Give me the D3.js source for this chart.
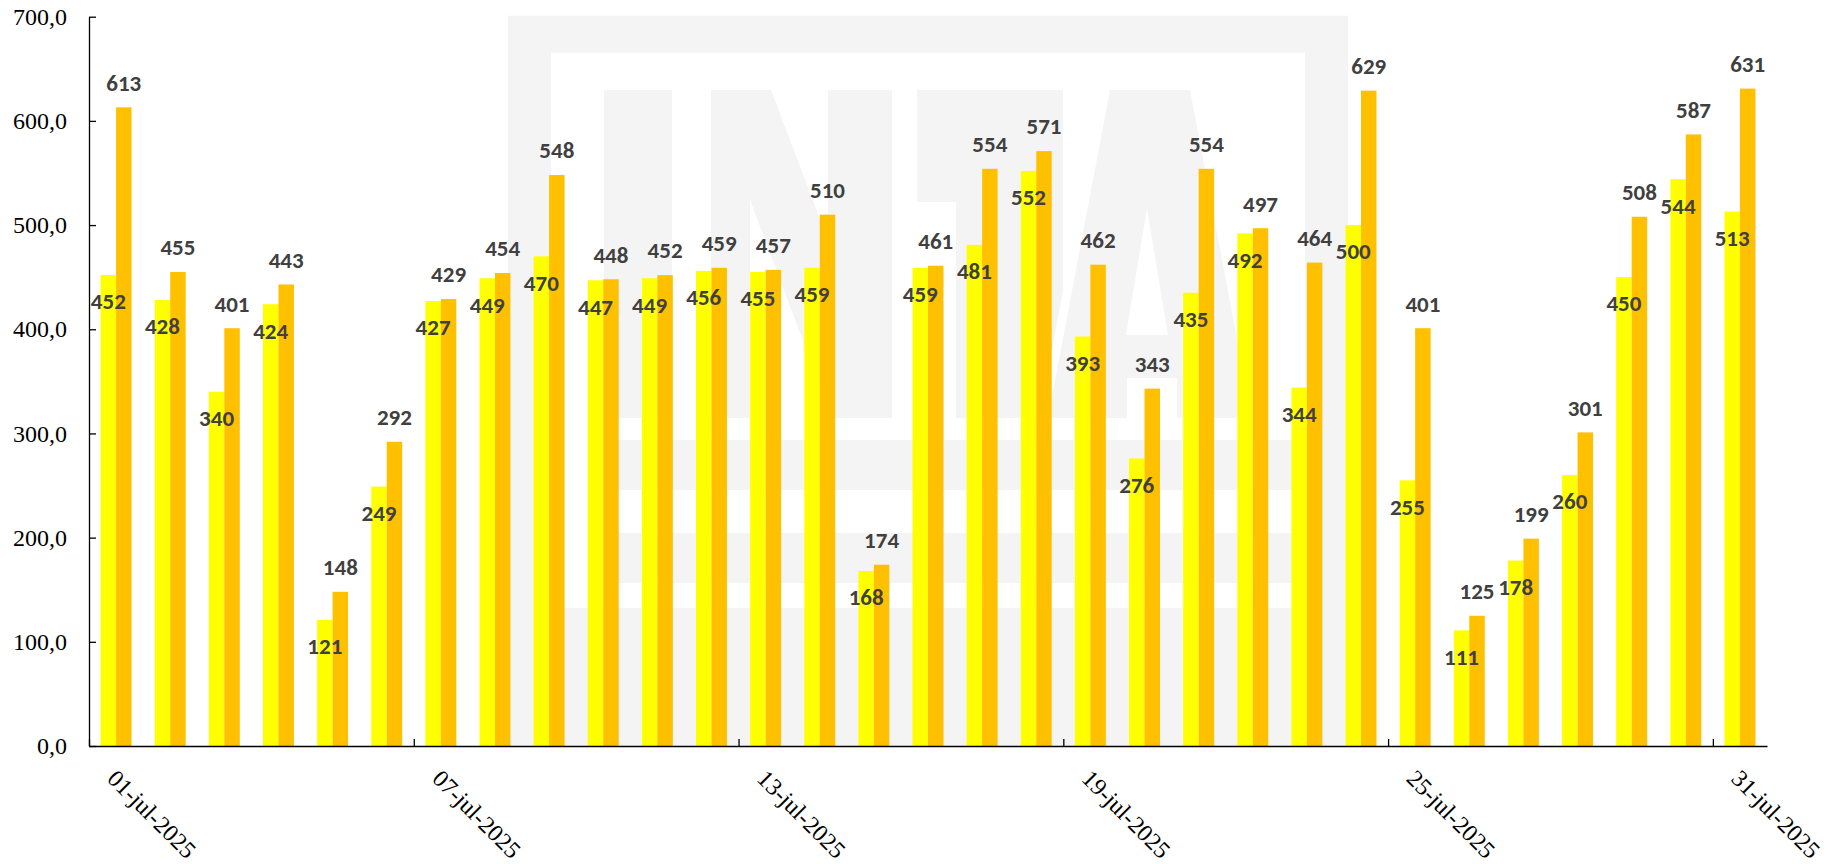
<!DOCTYPE html>
<html>
<head>
<meta charset="utf-8">
<title>Julio 2025</title>
<script src="https://d3js.org/d3.v7.min.js"></script>
<style>
    body { margin: 0; background: #fff; }
    svg { display: block; }
    .axis path, .axis line { stroke: #000; stroke-width: 1.3px; }
</style>
</head>
<body>
<script>
var fechas = ["01-jul-2025", "02-jul-2025", "03-jul-2025", "04-jul-2025", "05-jul-2025", "06-jul-2025",
    "07-jul-2025", "08-jul-2025", "09-jul-2025", "10-jul-2025", "11-jul-2025", "12-jul-2025",
    "13-jul-2025", "14-jul-2025", "15-jul-2025", "16-jul-2025", "17-jul-2025", "18-jul-2025",
    "19-jul-2025", "20-jul-2025", "21-jul-2025", "22-jul-2025", "23-jul-2025", "24-jul-2025",
    "25-jul-2025", "26-jul-2025", "27-jul-2025", "28-jul-2025", "29-jul-2025", "30-jul-2025",
    "31-jul-2025"];
var fechasEje = ["01-jul-2025", "07-jul-2025", "13-jul-2025", "19-jul-2025", "25-jul-2025", "31-jul-2025"];

var serie1 = [452, 428, 340, 424, 121, 249, 427, 449, 470, 447, 449, 456, 455, 459, 168, 459,
    481, 552, 393, 276, 435, 492, 344, 500, 255, 111, 178, 260, 450, 544, 513];
var serie2 = [613, 455, 401, 443, 148, 292, 429, 454, 548, 448, 452, 459, 457, 510, 174, 461,
    554, 571, 462, 343, 554, 497, 464, 629, 401, 125, 199, 301, 508, 587, 631];

var yTicks = [0, 100, 200, 300, 400, 500, 600, 700];

var margin = {top: 16.7, right: 77, bottom: 118, left: 89};
var width = 1844 - margin.left - margin.right,
    height = 864 - margin.top - margin.bottom;

var svg = d3.select("body").append("svg")
    .attr("width", 1844)
    .attr("height", 864);

// logo de fondo (marca de agua)
var marca = svg.append("g").attr("fill", "#f4f4f4");
marca.append("rect").attr("x", 508).attr("y", 15.7).attr("width", 840).attr("height", 730.3);
marca.append("rect").attr("x", 551).attr("y", 52.7).attr("width", 754).attr("height", 555.3).attr("fill", "#fff");
marca.append("rect").attr("x", 604).attr("y", 90).attr("width", 68).attr("height", 328);
marca.append("path").attr("d", "M711,90H771L828,240V90H892V418H832L750,200V418H711Z");
marca.append("path").attr("d", "M917,90H1063V291L1039,418H956V202H917Z");
marca.append("path").attr("fill-rule", "evenodd")
    .attr("d", "M1110,90H1190L1252,418H1177V378H1127V418H1048Z M1147,208L1168,335H1126Z");
marca.append("rect").attr("x", 604).attr("y", 440).attr("width", 701).attr("height", 50);
marca.append("rect").attr("x", 604).attr("y", 533).attr("width", 701).attr("height", 50);

var canvas = svg.append("g")
    .attr("transform", "translate(" + margin.left + "," + margin.top + ")");

var x = d3.scaleBand()
    .domain(fechas)
    .range([0, width]);

var xSerie = d3.scaleBand()
    .domain(["s1", "s2"])
    .range([0, x.bandwidth()])
    .paddingOuter(0.75);

var y = d3.scaleLinear()
    .domain([0, 700])
    .range([height, 0]);

var datos = fechas.map(function(f, i) {
    return {fecha: f, s1: serie1[i], s2: serie2[i]};
});

var colores = {s1: "#ffff00", s2: "#ffc000"};

var grupos = canvas.selectAll(".dia")
    .data(datos)
    .enter()
    .append("g")
    .attr("class", "dia")
    .attr("transform", function(d) { return "translate(" + x(d.fecha) + ",0)"; });

["s1", "s2"].forEach(function(s) {
    grupos.append("rect")
        .attr("x", xSerie(s))
        .attr("y", function(d) { return y(d[s]); })
        .attr("width", xSerie.bandwidth())
        .attr("height", function(d) { return height - y(d[s]); })
        .attr("fill", colores[s]);
});

function estiloEtiqueta(sel) {
    sel.attr("font-family", "Carlito")
        .attr("font-weight", "bold")
        .attr("font-size", 23)
        .attr("fill", "#404040")
        .attr("text-anchor", "middle")
        .attr("dy", "0.34em");
}

// etiquetas: serie 1 dentro de la barra, serie 2 encima
grupos.append("text")
    .attr("x", xSerie("s1") + xSerie.bandwidth() / 2)
    .attr("y", function(d) { return y(d.s1) + 26.5; })
    .call(estiloEtiqueta)
    .text(function(d) { return d.s1; });

grupos.append("text")
    .attr("x", xSerie("s2") + xSerie.bandwidth() / 2)
    .attr("y", function(d) { return y(d.s2) - 24.5; })
    .call(estiloEtiqueta)
    .text(function(d) { return d.s2; });

function estiloEje(sel) {
    sel.attr("font-family", "Liberation Serif")
        .attr("font-size", 24)
        .attr("fill", "#000");
}

// eje Y
var ejeY = canvas.append("g")
    .attr("class", "axis")
    .call(d3.axisLeft(y)
        .tickValues(yTicks)
        .tickSizeInner(-7)
        .tickSizeOuter(0)
        .tickPadding(22)
        .tickFormat(function(d) { return d3.format(".1f")(d).replace(".", ","); }));
ejeY.attr("font-family", null).attr("font-size", null);
ejeY.selectAll("text").call(estiloEje);

// eje X: marcas entre categorias
var xIdx = d3.scaleLinear()
    .domain([0, fechas.length])
    .range([0, width]);

canvas.append("g")
    .attr("class", "axis")
    .attr("transform", "translate(0," + height + ")")
    .call(d3.axisBottom(xIdx)
        .tickValues(fechasEje.map(function(f) { return fechas.indexOf(f); }))
        .tickSizeInner(-7)
        .tickSizeOuter(0)
        .tickFormat(""));

// eje X: etiquetas giradas
var ejeX = canvas.append("g")
    .attr("class", "axis")
    .attr("transform", "translate(0," + height + ")")
    .call(d3.axisBottom(x)
        .tickValues(fechasEje)
        .tickSize(0));
ejeX.attr("font-family", null).attr("font-size", null);

ejeX.select(".domain").remove();
ejeX.selectAll("text")
    .call(estiloEje)
    .attr("x", 0)
    .attr("y", 0)
    .attr("dy", "0.35em")
    .attr("text-anchor", "start")
    .attr("transform", "translate(-4,28) rotate(45)");
</script>
</body>
</html>
